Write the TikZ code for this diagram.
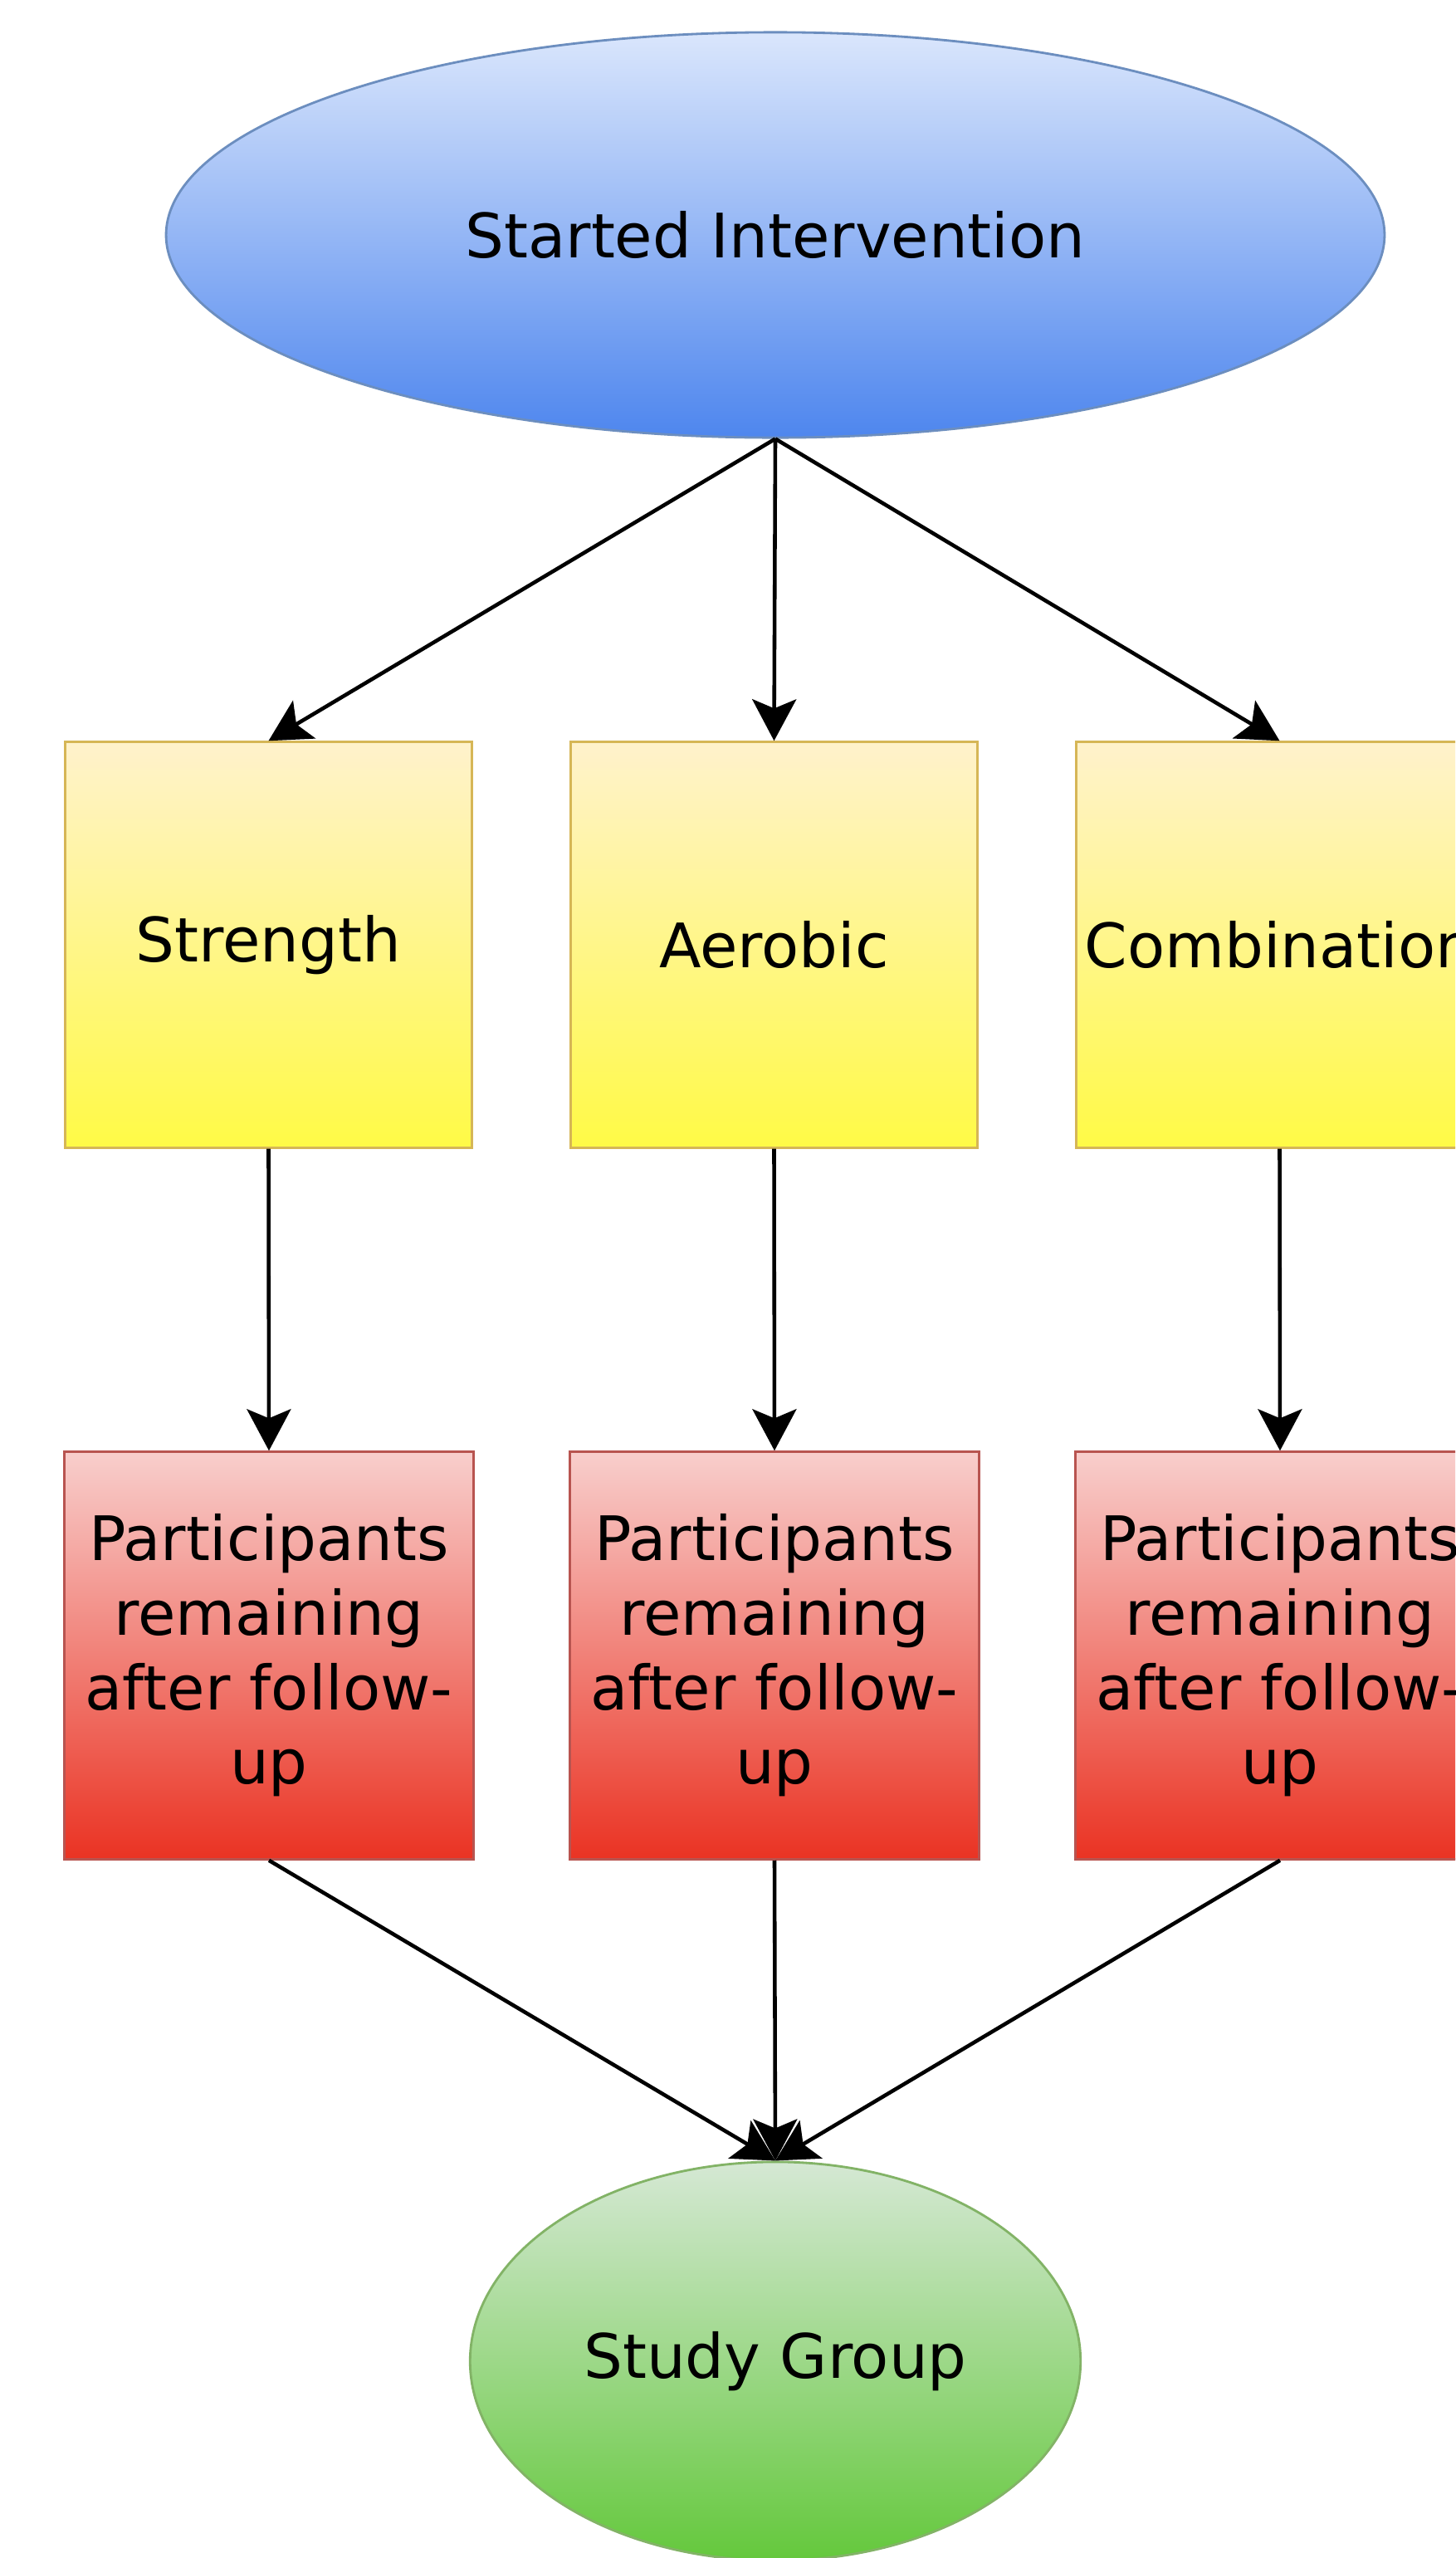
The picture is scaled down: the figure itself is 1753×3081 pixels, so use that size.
\documentclass[tikz,border=0pt]{standalone}
\usepackage{fontspec}
\setmainfont{DejaVu Sans}
\usetikzlibrary{shapes.geometric,arrows.meta}
\definecolor{blueTop}{RGB}{218,230,252}
\definecolor{blueBot}{RGB}{78,134,238}
\definecolor{blueLine}{HTML}{6C8EBF}
\definecolor{yelTop}{RGB}{255,242,204}
\definecolor{yelBot}{RGB}{255,250,70}
\definecolor{yelLine}{HTML}{D6B656}
\definecolor{redTop}{RGB}{248,206,204}
\definecolor{redBot}{RGB}{234,51,35}
\definecolor{redLine}{HTML}{B85450}
\definecolor{grnTop}{HTML}{D5E8D4}
\definecolor{grnBot}{RGB}{100,200,60}
\definecolor{grnLine}{HTML}{82B366}
\tikzset{
  lbl/.style={font=\fontsize{21}{25.5}\selectfont, align=center, text=black, inner sep=0pt},
  startnode/.style={lbl, ellipse, draw=blueLine, line width=0.8pt, top color=blueTop, bottom color=blueBot, minimum width=14.67cm, minimum height=4.88cm},
  armbox/.style={lbl, rectangle, draw=yelLine, line width=0.9pt, top color=yelTop, bottom color=yelBot, minimum width=4.89cm, minimum height=4.88cm},
  remainbox/.style={lbl, rectangle, draw=redLine, line width=0.9pt, top color=redTop, bottom color=redBot, minimum width=4.92cm, minimum height=4.9cm},
  groupnode/.style={lbl, ellipse, draw=grnLine, line width=0.8pt, top color=grnTop, bottom color=grnBot, minimum width=7.35cm, minimum height=4.8cm},
  conn/.style={line width=1.3pt, -{Stealth[length=5mm, width=5.3mm, inset=1.1mm]}}
}
\begin{document}
\begin{tikzpicture}[x=0.01cm, y=-0.01cm]
\useasboundingbox[fill=white] (0,0) rectangle (1753,3081);
\clip (0,0) rectangle (1753,3081);
\node[startnode] (start) at (934,283) {Started Intervention};
\node[armbox] (str) at (323.5,1138) {Strength};
\node[armbox] (aer) at (932.5,1138) {Aerobic};
\node[armbox] (com) at (1541.5,1138) {Combination};
\node[remainbox] (r1) at (324,1994) {Participants\\remaining\\after follow-\\up};
\node[remainbox] (r2) at (933,1994) {Participants\\remaining\\after follow-\\up};
\node[remainbox] (r3) at (1542,1994) {Participants\\remaining\\after follow-\\up};
\node[groupnode] (grp) at (934,2844) {Study Group};
\draw[conn] (start.south) -- (str.north);
\draw[conn] (start.south) -- (aer.north);
\draw[conn] (start.south) -- (com.north);
\draw[conn] (str.south) -- (r1.north);
\draw[conn] (aer.south) -- (r2.north);
\draw[conn] (com.south) -- (r3.north);
\draw[conn] (r1.south) -- (grp.north);
\draw[conn] (r2.south) -- (grp.north);
\draw[conn] (r3.south) -- (grp.north);
\end{tikzpicture}
\end{document}
